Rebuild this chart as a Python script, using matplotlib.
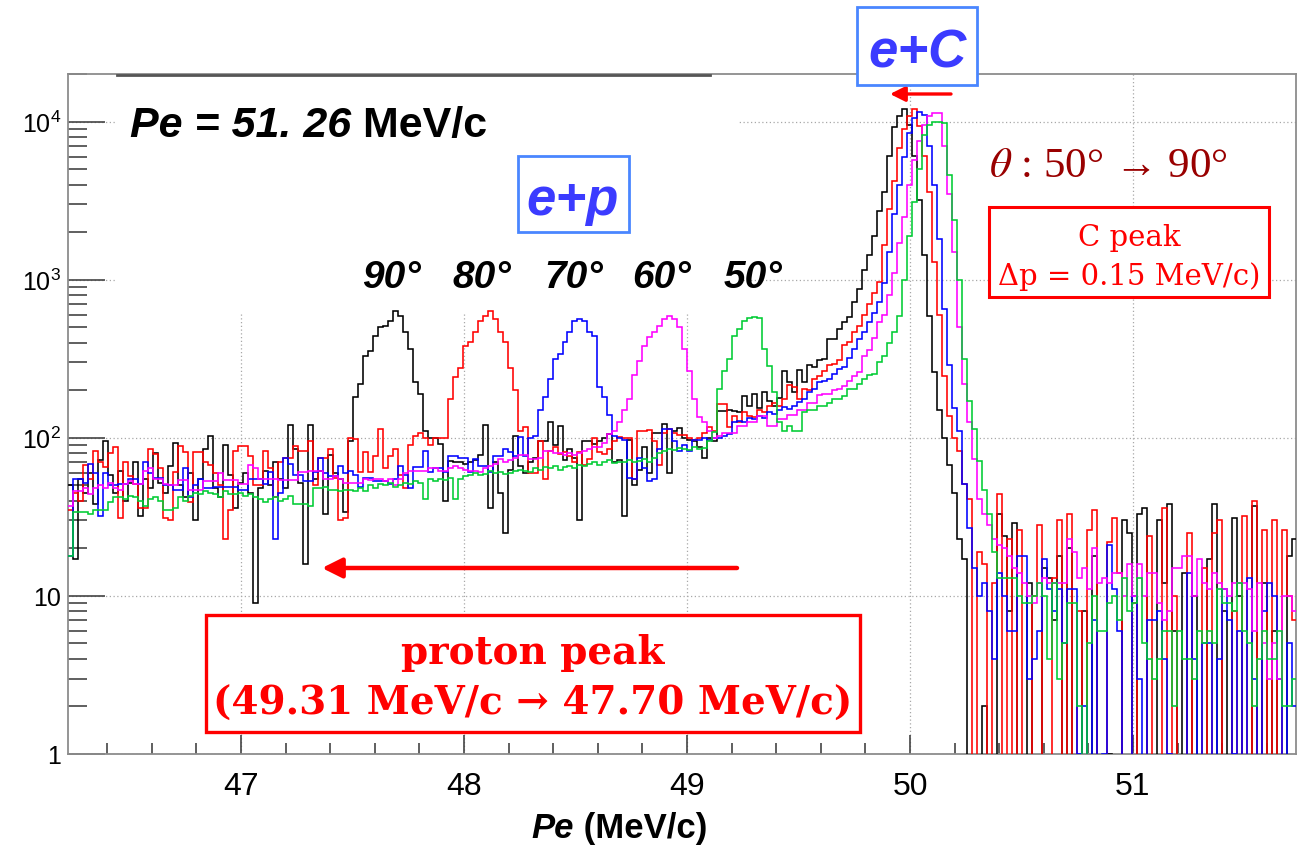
import numpy as np
import matplotlib
matplotlib.use("Agg")
import matplotlib.pyplot as plt
from matplotlib.ticker import FixedLocator, MultipleLocator, LogLocator, NullFormatter, FixedFormatter
from matplotlib.patches import Rectangle
from matplotlib.lines import Line2D

plt.rcParams['font.family'] = ['Liberation Sans', 'DejaVu Sans']
plt.rcParams['mathtext.fontset'] = 'custom'
plt.rcParams['mathtext.rm'] = 'Liberation Sans'
plt.rcParams['mathtext.it'] = 'Liberation Sans:italic'
plt.rcParams['mathtext.bf'] = 'Liberation Sans:bold'

# ---------------- data ----------------
bin_start = 46.224
bin_width = 0.0224
x_range = (46.224, 51.731)
y_range = (1, 2.0e4)
x_major = [47, 48, 49, 50, 51]
x_tick_labels = ['47', '48', '49', '50', '51']
y_major = [1, 10, 100, 1000, 10000]
y_tick_labels = ['1', '10', r'$10^{2}$', r'$10^{3}$', r'$10^{4}$']
angles = ['90°', '80°', '70°', '60°', '50°']

counts_90 = [
    50, 17, 55, 45, 60, 38, 72, 96, 58, 45,
    62, 40, 52, 70, 32, 55, 48, 80, 52, 45,
    66, 93, 50, 42, 60, 30, 55, 85, 103, 48,
    42, 90, 58, 36, 52, 60, 45, 9, 48, 62,
    50, 70, 55, 48, 120, 85, 52, 16, 120, 55,
    62, 33, 78, 60, 55, 34, 96, 182, 220, 330,
    355, 440, 505, 510, 550, 630, 590, 465, 365, 225,
    190, 110, 100, 100, 92, 40, 71, 70, 70, 68,
    70, 72, 78, 120, 36, 70, 45, 25, 63, 103,
    66, 60, 70, 75, 96, 96, 125, 90, 118, 72,
    85, 75, 30, 95, 96, 92, 96, 100, 105, 70,
    72, 32, 97, 50, 63, 87, 60, 108, 108, 123,
    60, 110, 115, 99, 97, 95, 87, 74, 100, 96,
    148, 148, 150, 148, 145, 185, 160, 190, 155, 195,
    170, 160, 178, 265, 225, 195, 270, 225, 290, 280,
    310, 315, 420, 420, 490, 540, 580, 720, 875, 1150,
    1430, 1900, 2700, 3600, 6100, 9300, 10900, 12000, 9500, 6100,
    3200, 1430, 590, 260, 150, 100, 67, 45, 23, 17,
    0, 0, 0, 2, 0, 0, 33, 24, 8, 29,
    0, 0, 12, 0, 0, 15, 13, 7, 18, 0,
    20, 0, 0, 8, 0, 18, 0, 0, 1, 0,
    0, 30, 25, 0, 33, 36, 0, 0, 30, 12,
    38, 6, 0, 14, 0, 10, 0, 0, 17, 38,
    0, 8, 0, 31, 10, 0, 0, 37, 0, 12,
    0, 6, 0, 0, 18, 23]

counts_80 = [
    35, 45, 40, 67, 55, 83, 70, 65, 80, 87,
    31, 70, 57, 51, 36, 36, 85, 79, 64, 31,
    30, 61, 89, 81, 39, 81, 81, 70, 67, 60,
    50, 23, 35, 83, 89, 89, 77, 50, 50, 83,
    64, 42, 70, 75, 75, 89, 83, 83, 95, 50,
    75, 75, 85, 56, 30, 31, 100, 98, 61, 81,
    61, 77, 113, 64, 77, 85, 58, 48, 90, 103,
    108, 99, 90, 99, 99, 99, 177, 243, 275, 380,
    405, 465, 545, 590, 630, 565, 465, 405, 275, 200,
    110, 117, 60, 60, 95, 55, 83, 87, 79, 81,
    77, 70, 81, 67, 73, 99, 81, 79, 85, 95,
    101, 100, 100, 55, 110, 110, 112, 95, 67, 108,
    113, 108, 104, 104, 99, 97, 99, 108, 117, 110,
    164, 164, 117, 138, 125, 145, 138, 136, 150, 145,
    160, 167, 160, 177, 215, 210, 177, 205, 200, 237,
    245, 265, 290, 295, 310, 385, 405, 465, 510, 600,
    700, 820, 960, 1650, 2800, 4200, 6800, 9000, 10900, 12000,
    9400, 6100, 3600, 1300, 600, 245, 138, 100, 82, 51,
    41, 0, 19, 16, 0, 12, 44, 0, 23, 0,
    26, 0, 0, 10, 28, 0, 0, 13, 30, 0,
    33, 0, 8, 0, 26, 35, 0, 0, 22, 31,
    14, 0, 0, 9, 0, 0, 24, 0, 0, 36,
    0, 10, 0, 0, 25, 0, 0, 15, 0, 25,
    30, 0, 0, 8, 0, 32, 0, 40, 0, 26,
    0, 30, 0, 26, 10, 7]

counts_70 = [
    18, 55, 55, 52, 68, 60, 32, 60, 50, 50,
    51, 51, 55, 55, 51, 70, 60, 56, 56, 50,
    50, 47, 47, 64, 42, 50, 55, 48, 48, 49,
    49, 49, 49, 49, 47, 47, 55, 55, 55, 51,
    61, 23, 45, 74, 68, 58, 58, 53, 53, 61,
    74, 60, 57, 57, 66, 60, 62, 58, 49, 56,
    56, 53, 53, 53, 51, 55, 66, 58, 48, 65,
    65, 83, 61, 64, 64, 61, 77, 77, 75, 75,
    61, 73, 66, 66, 61, 77, 77, 85, 81, 77,
    101, 77, 99, 103, 150, 182, 235, 315, 340, 405,
    470, 550, 565, 550, 470, 440, 210, 180, 140, 103,
    99, 97, 56, 55, 75, 64, 53, 55, 85, 114,
    114, 96, 83, 90, 83, 97, 97, 99, 97, 99,
    100, 102, 106, 126, 128, 126, 133, 131, 138, 133,
    146, 142, 149, 157, 153, 160, 168, 177, 196, 204,
    224, 230, 234, 255, 274, 280, 320, 364, 420, 470,
    540, 620, 720, 950, 1500, 2600, 4000, 6000, 8500, 10500,
    11500, 11000, 7000, 4000, 1800, 650, 290, 155, 110, 51,
    27, 15, 10, 12, 8, 4, 14, 10, 6, 6,
    18, 18, 3, 4, 6, 17, 11, 8, 11, 5,
    11, 11, 1, 2, 0, 7, 0, 1, 21, 11,
    6, 0, 0, 10, 3, 0, 7, 7, 8, 4,
    1, 0, 0, 0, 14, 4, 0, 5, 5, 0,
    4, 11, 7, 1, 6, 0, 13, 3, 0, 8,
    12, 10, 3, 0, 5, 2]

counts_60 = [
    37, 46, 46, 48, 44, 48, 50, 48, 52, 48,
    47, 51, 53, 51, 51, 62, 64, 55, 55, 51,
    50, 50, 54, 54, 47, 47, 47, 53, 53, 53,
    60, 54, 54, 54, 51, 51, 67, 64, 55, 55,
    55, 55, 54, 54, 54, 54, 61, 61, 62, 62,
    62, 55, 55, 57, 55, 52, 52, 52, 52, 55,
    54, 55, 55, 53, 55, 50, 55, 60, 62, 62,
    62, 62, 64, 64, 62, 62, 64, 66, 64, 63,
    62, 62, 61, 64, 66, 68, 73, 70, 72, 75,
    78, 78, 73, 73, 75, 82, 82, 80, 80, 78,
    80, 78, 80, 82, 85, 87, 88, 93, 105, 110,
    126, 150, 177, 250, 305, 380, 435, 465, 510, 565,
    590, 565, 505, 365, 265, 177, 135, 125, 110, 100,
    103, 107, 107, 107, 119, 119, 126, 126, 138, 138,
    119, 119, 131, 131, 140, 140, 150, 150, 165, 165,
    187, 190, 190, 200, 204, 213, 230, 245, 260, 330,
    360, 430, 540, 600, 800, 1100, 1700, 2500, 4000, 5700,
    7500, 9500, 10800, 11300, 11300, 7000, 3500, 1500, 500, 220,
    125, 73, 41, 33, 28, 23, 21, 20, 18, 15,
    14, 12, 10, 9, 12, 13, 12, 12, 12, 12,
    23, 19, 13, 15, 11, 20, 12, 13, 12, 14,
    14, 10, 16, 10, 16, 10, 14, 14, 9, 7,
    8, 15, 15, 18, 18, 10, 17, 12, 11, 14,
    12, 11, 10, 12, 12, 12, 11, 6, 12, 5,
    3, 5, 3, 10, 10, 8]

counts_50 = [
    18, 34, 34, 34, 33, 35, 35, 35, 39, 42,
    42, 41, 43, 42, 40, 37, 41, 42, 40, 35,
    35, 36, 42, 40, 43, 45, 44, 46, 45, 44,
    42, 46, 44, 44, 45, 43, 44, 42, 41, 39,
    41, 42, 40, 41, 43, 38, 38, 38, 37, 48,
    48, 49, 47, 47, 46, 47, 47, 46, 48, 46,
    50, 48, 51, 50, 52, 49, 50, 52, 51, 53,
    52, 41, 55, 53, 55, 54, 56, 41, 55, 57,
    58, 60, 58, 59, 62, 60, 61, 59, 60, 62,
    63, 62, 61, 64, 63, 65, 64, 66, 63, 65,
    66, 64, 67, 66, 68, 70, 67, 70, 72, 69,
    70, 70, 72, 70, 71, 73, 70, 74, 80, 82,
    85, 84, 86, 85, 84, 87, 85, 86, 95, 109,
    204, 265, 315, 440, 490, 550, 575, 580, 575, 365,
    285, 195, 126, 110, 118, 110, 110, 146, 150, 150,
    160, 160, 165, 177, 177, 185, 204, 204, 220, 235,
    250, 255, 300, 330, 400, 465, 590, 1000, 1900, 3100,
    5000, 8200, 9500, 10000, 10000, 9800, 4600, 2400, 1000, 315,
    170, 114, 71, 47, 33, 19, 13, 13, 13, 13,
    10, 9, 9, 10, 12, 10, 4, 12, 3, 5,
    9, 9, 2, 0, 5, 10, 6, 6, 9, 10,
    7, 13, 8, 9, 13, 5, 4, 3, 4, 6,
    6, 2, 6, 4, 4, 3, 6, 5, 6, 5,
    11, 9, 9, 8, 12, 6, 5, 2, 4, 6,
    4, 4, 6, 2, 2, 3]

series = [counts_90, counts_80, counts_70, counts_60, counts_50]
colors = ['#000000', '#ff0000', '#0000ff', '#ff00ff', '#00cc33']

# ---------------- figure ----------------
W, H = 1299, 853
fig = plt.figure(figsize=(W / 100, H / 100), dpi=100)
L, R, T, B = 68, 1296, 75, 755
ax = fig.add_axes([L / W, 1 - B / H, (R - L) / W, (B - T) / H])


def fp(x, y):
    return (x / W, 1 - y / H)


nb = len(counts_90)
edges = bin_start + bin_width * np.arange(nb + 1)
for vals, col in zip(series, colors):
    v = np.clip(np.asarray(vals, dtype=float), 0.2, None)
    ax.stairs(v, edges, color=col, lw=1.15, baseline=None, zorder=3)

ax.set_yscale('log')
ax.set_xlim(*x_range)
ax.set_ylim(*y_range)

ax.xaxis.set_major_locator(FixedLocator(x_major))
ax.xaxis.set_major_formatter(FixedFormatter(x_tick_labels))
ax.xaxis.set_minor_locator(MultipleLocator(0.2))
ax.yaxis.set_major_locator(FixedLocator(y_major))
ax.yaxis.set_major_formatter(FixedFormatter(y_tick_labels))
ax.yaxis.set_minor_locator(LogLocator(base=10, subs=np.arange(2, 10)))
ax.yaxis.set_minor_formatter(NullFormatter())

ax.tick_params(axis='both', which='both', direction='in', colors='#444444', width=1.2,
               top=False, right=False)
ax.tick_params(axis='y', which='major', length=26.5, pad=5, labelsize=18, labelcolor='black')
ax.tick_params(axis='y', which='minor', length=13.5)
ax.tick_params(axis='x', which='major', length=14, pad=12, labelsize=23, labelcolor='black')
ax.tick_params(axis='x', which='minor', length=8)

ax.grid(True, which='major', ls=(0, (1, 2)), color='#a8a8a8', lw=0.9)
ax.set_axisbelow(True)
for s in ax.spines.values():
    s.set_color('#8c8c8c')
    s.set_linewidth(1.3)

# white overlay panel (top left) hiding grid
ax.add_patch(Rectangle(fp(117, 313), (738 - 117) / W, (313 - 76) / H, transform=fig.transFigure,
                       facecolor='white', edgecolor='none', zorder=1.5, clip_on=False))
fig.add_artist(Line2D([117 / W, 710 / W], [1 - 75.5 / H, 1 - 75.5 / H], color='#555555', lw=2.0))

# axis title
t_pe = fig.text(*fp(531, 838), 'Pe', fontsize=25, fontweight='bold', fontstyle='italic',
                ha='left', va='baseline')
ax.annotate(' (MeV/c)', xy=(1, 0), xycoords=t_pe, xytext=(0, 0), textcoords='offset pixels',
            fontsize=25, fontweight='bold', ha='left', va='bottom', annotation_clip=False)

# Pe = 51.26 MeV/c
t1 = fig.text(*fp(130, 137), 'Pe = 51. 26', fontsize=31, fontweight='bold', fontstyle='italic',
              ha='left', va='baseline', zorder=5)
ax.annotate(' MeV/c', xy=(1, 0), xycoords=t1, xytext=(0, 0), textcoords='offset pixels',
            fontsize=31, fontweight='bold', ha='left', va='bottom', annotation_clip=False, zorder=5)

# e+p box
fig.add_artist(Rectangle(fp(518, 233), (629 - 518) / W, (233 - 157) / H, transform=fig.transFigure,
                         facecolor='white', edgecolor='#4a86ff', lw=2.0, zorder=5))
fig.text(*fp(573, 215), 'e+p', fontsize=38, fontweight='bold', fontstyle='italic',
         color='#3b3bff', ha='center', va='baseline', zorder=6)

# e+C box
fig.add_artist(Rectangle(fp(857, 86), (977 - 857) / W, (86 - 8) / H, transform=fig.transFigure,
                         facecolor='white', edgecolor='#4a86ff', lw=2.0, zorder=5))
fig.text(*fp(917, 67), 'e+C', fontsize=38, fontweight='bold', fontstyle='italic',
         color='#3b3bff', ha='center', va='baseline', zorder=6)

# angle labels
for lab, xc in zip(angles, [391, 482, 574, 662, 753]):
    fig.text(*fp(xc, 288), lab, fontsize=28, fontweight='bold', fontstyle='italic',
             ha='center', va='baseline', zorder=6)

# theta text
fig.text(*fp(989, 177), r'$\theta$ : 50° → 90°', fontsize=31, color='#990000',
         family=['Liberation Serif', 'DejaVu Serif'], math_fontfamily='stix',
         ha='left', va='baseline', zorder=6)

# C peak box
fig.add_artist(Rectangle(fp(989, 298), (1269 - 989) / W, (298 - 208) / H, transform=fig.transFigure,
                         facecolor='white', edgecolor='#ff0000', lw=2.2, zorder=5))
fig.text(*fp(1129, 246), 'C peak', fontsize=21, color='#ff0000',
         family=['DejaVu Serif'], ha='center', va='baseline', zorder=6)
fig.text(*fp(1129, 285), 'Δp = 0.15 MeV/c)', fontsize=21, color='#ff0000',
         family=['DejaVu Serif'], ha='center', va='baseline', zorder=6)

# proton peak box
fig.add_artist(Rectangle(fp(206, 733), (860 - 206) / W, (733 - 616) / H, transform=fig.transFigure,
                         facecolor='white', edgecolor='#ff0000', lw=2.4, zorder=5))
fig.text(*fp(533, 664), 'proton peak', fontsize=28, fontweight='bold', color='#ff0000',
         family=['DejaVu Serif'], ha='center', va='baseline', zorder=6)
fig.text(*fp(533, 715), '(49.31 MeV/c → 47.70 MeV/c)', fontsize=28, fontweight='bold',
         color='#ff0000', family=['DejaVu Serif'], ha='center', va='baseline', zorder=6)

# arrows
ax.annotate('', xy=(322, H - 569), xycoords='figure pixels', xytext=(737, H - 569),
            textcoords='figure pixels',
            arrowprops=dict(arrowstyle='-|>,head_length=1.2,head_width=0.6', color='#ff0000',
                            lw=3.2, shrinkA=0, shrinkB=0, mutation_scale=10), zorder=6)
ax.annotate('', xy=(890, H - 95), xycoords='figure pixels', xytext=(951, H - 95),
            textcoords='figure pixels',
            arrowprops=dict(arrowstyle='-|>,head_length=0.9,head_width=0.45', color='#ff0000',
                            lw=2.4, shrinkA=0, shrinkB=0, mutation_scale=10), zorder=6)

fig.savefig('out.png', dpi=100, facecolor='white')
